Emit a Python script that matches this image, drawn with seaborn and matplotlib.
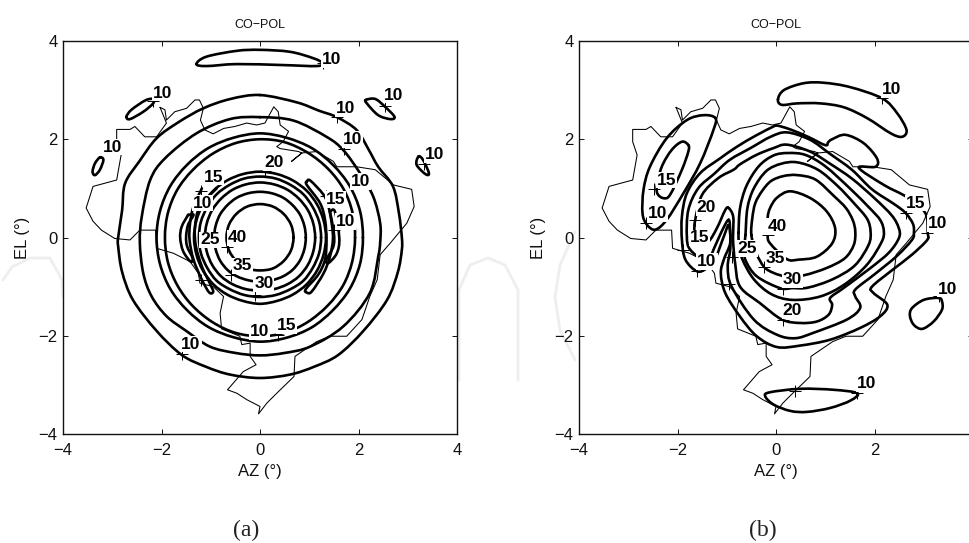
import matplotlib
matplotlib.use("Agg")
import matplotlib.pyplot as plt
from matplotlib.path import Path
from matplotlib.patches import PathPatch
import seaborn as sns

BRAZIL = [(-2.03,2.65),(-1.93,2.6),(-1.9,2.39),(-1.73,2.56),(-1.49,2.63),(-1.32,2.8),(-1.23,2.8),(-1.15,2.63),(-1.21,2.39),(-1.12,2.19),
 (-.95,2.11),(-.74,2.22),(-.51,2.26),(-.27,2.33),(-.07,2.29),(.1,2.33),(.28,2.66),(.37,2.56),(.41,2.29),(.58,2.16),(.47,1.95),(.34,1.85),
 (.41,1.81),(.78,1.75),(.85,1.72),(.64,1.55),(.85,1.72),(1.15,1.75),(1.49,1.55),(1.56,1.44),(1.96,1.44),(2.34,1.38),(2.71,1.07),(3.08,.98),
 (3.13,.63),(2.98,.29),(2.64,-.12),(2.44,-.35),(2.38,-.86),(2.23,-1.2),(2.07,-1.67),(1.76,-2.01),(1.42,-2.01),(1.15,-2.12),(.71,-2.42),
 (.69,-2.83),(.34,-3.17),(.14,-3.37),(-.03,-3.59),(0,-3.44),(-.27,-3.3),(-.47,-3.17),(-.66,-3.1),(-.34,-2.73),(-.08,-2.59),(-.2,-2.42),
 (-.2,-2.15),(-.37,-2.18),(-.41,-2.01),(-.78,-1.86),(-.81,-1.54),(-.74,-1.2),(-.95,-1.0),(-1.22,-.93),(-1.25,-.73),(-1.42,-.49),(-1.76,-.32),
 (-2.1,-.22),(-2.12,.15),(-2.44,.15),(-2.64,-.05),(-2.95,-.02),(-3.22,.15),(-3.39,.33),(-3.53,.6),(-3.39,1.04),(-2.91,1.17),(-2.82,1.68),
 (-2.91,1.95),(-2.91,2.2),(-2.64,2.2),(-2.54,2.26),(-2.34,2.05),(-2.1,2.05),(-1.9,2.33),(-2.03,2.65)]

# ---- panel (a) contours (AZ, EL) ----
A_OUTER = [(0,2.9),(.75,2.75),(1.2,2.58),(1.56,2.45),(1.96,2.19),(2.2,1.8),(2.4,1.44),(2.7,1.04),(2.82,.5),(2.88,0),(2.88,-.25),(2.8,-.7),(2.58,-1.27),
 (2.1,-1.9),(1.59,-2.39),(1.1,-2.63),(.61,-2.79),(0,-2.86),(-.61,-2.79),(-1.1,-2.63),(-1.59,-2.39),(-2.1,-1.9),(-2.58,-1.27),(-2.8,-.7),(-2.88,-.18),
 (-2.88,0),(-2.8,.55),(-2.74,1.1),(-2.45,1.55),(-2.1,2.02),(-1.65,2.35),(-1.15,2.63),(-.6,2.82)]
A_RING2 = [(0,2.45),(.68,2.38),(1.35,2.05),(1.69,1.78),(2.03,1.31),(2.3,.83),(2.44,.29),(2.44,-.1),(2.4,-.39),(2.23,-1.13),(1.69,-1.81),(1.02,-2.22),
 (.5,-2.35),(0,-2.4),(-.5,-2.35),(-1.02,-2.22),(-1.5,-1.9),(-1.9,-1.6),(-2.2,-1.2),(-2.37,-.73),(-2.44,-.1),(-2.4,.43),(-2.23,1.17),(-1.93,1.61),
 (-1.29,2.12),(-.61,2.41)]
A_RING3 = [(2.09,0),(2.03,.54),(1.82,1.05),(1.48,1.48),(1.05,1.82),(.54,2.03),(0,2.12),(-.54,2.03),(-1.05,1.82),(-1.48,1.48),(-1.82,1.05),(-2.03,.54),
 (-2.1,0),(-2.03,-.54),(-1.82,-1.05),(-1.48,-1.48),(-1.05,-1.82),(-.54,-2.03),(0,-2.12),(.54,-2.04),(1.05,-1.83),(1.48,-1.48),(1.82,-1.05),(2.03,-.54)]
A_RING4 = [(1.93,0),(1.88,.5),(1.7,.98),(1.39,1.39),(.98,1.72),(.5,1.94),(0,2.0),(-.5,1.92),(-.97,1.7),(-1.37,1.37),(-1.68,.97),(-1.87,.5),
 (-1.93,0),(-1.87,-.5),(-1.68,-.97),(-1.38,-1.38),(-.97,-1.72),(-.5,-1.94),(0,-2.01),(.5,-1.94),(.97,-1.72),(1.38,-1.38),(1.69,-.97),(1.87,-.5)]
A_R20 = [(1.34,0),(1.29,.35),(1.16,.67),(.95,.95),(.67,1.16),(.35,1.29),(0,1.34),(-.35,1.29),(-.67,1.16),(-.95,.95),(-1.16,.67),(-1.29,.35),
 (-1.34,0),(-1.29,-.35),(-1.16,-.67),(-.95,-.95),(-.67,-1.16),(-.35,-1.29),(0,-1.35),(.35,-1.29),(.67,-1.16),(.95,-.95),(1.16,-.67),(1.29,-.35)]
A_R25 = [(1.24,0),(1.2,.32),(1.07,.62),(.88,.88),(.62,1.07),(.32,1.2),(0,1.24),(-.32,1.2),(-.62,1.07),(-.88,.88),(-1.07,.62),(-1.2,.32),
 (-1.24,0),(-1.2,-.32),(-1.07,-.62),(-.88,-.88),(-.62,-1.05),(-.32,-1.17),(0,-1.21),(.32,-1.17),(.62,-1.05),(.88,-.88),(1.07,-.62),(1.2,-.32)]
A_R30 = [(1.12,0),(1.08,.29),(.97,.56),(.79,.79),(.56,.97),(.29,1.08),(0,1.12),(-.29,1.08),(-.56,.97),(-.79,.79),(-.97,.56),(-1.08,.29),
 (-1.12,0),(-1.08,-.29),(-.97,-.56),(-.79,-.79),(-.56,-.95),(-.29,-1.05),(0,-1.08),(.29,-1.05),(.56,-.95),(.79,-.79),(.97,-.56),(1.08,-.29)]
A_R35 = [(.93,0),(.9,.24),(.81,.47),(.66,.66),(.47,.81),(.24,.9),(0,.93),(-.24,.9),(-.47,.81),(-.66,.66),(-.81,.47),(-.9,.24),
 (-.93,0),(-.9,-.24),(-.81,-.47),(-.66,-.66),(-.47,-.79),(-.24,-.87),(0,-.9),(.24,-.87),(.47,-.79),(.66,-.66),(.81,-.47),(.9,-.24)]
A_R40 = [(.68,0),(.63,.26),(.48,.48),(.26,.63),(0,.68),(-.26,.63),(-.48,.48),(-.63,.26),(-.68,0),(-.63,-.26),(-.48,-.48),(-.26,-.63),(0,-.67),(.26,-.63),(.48,-.48),(.63,-.26)]
A_C15L = [(-1.18,1.0),(-1.35,.63),(-1.42,.29),(-1.43,-.05),(-1.35,-.45),(-1.18,-.86),(-1.03,-1.12),(-.95,-1.1),(-1.02,-.93),(-1.18,-.59),(-1.3,-.18),(-1.32,.22),(-1.22,.63),(-.88,1.0)]
A_C10L = [(-1.46,.46),(-1.59,.22),(-1.62,-.01),(-1.56,-.28),(-1.41,-.49),(-1.37,-.42),(-1.48,-.18),(-1.5,.02),(-1.46,.26),(-1.35,.46),(-1.46,.46)]
A_C15R = [(.95,1.14),(1.02,1.16),(1.29,.87),(1.39,.63),(1.46,.26),(1.48,-.05),(1.42,-.39),(1.29,-.73),(1.05,-1.1),(.95,-1.12),(.93,-1.05),(1.18,-.76),(1.32,-.45),(1.35,-.05),(1.32,.36),(1.22,.7),(.95,1.07),(.95,1.14)]
A_C10R = [(1.42,.53),(1.52,.53),(1.61,-.01),(1.56,-.32),(1.39,-.52),(1.35,-.45),(1.49,-.18),(1.5,.09),(1.42,.53)]
A_TOP = [(-1.29,3.53),(-1.09,3.68),(-.47,3.8),(0,3.82),(.61,3.78),(1.08,3.65),(1.27,3.55),(1.15,3.49),(.47,3.51),(-.47,3.53),(-1.09,3.49)]
A_TL = [(-2.71,2.46),(-2.61,2.6),(-2.33,2.79),(-2.17,2.82),(-2.17,2.73),(-2.37,2.56),(-2.64,2.41)]
A_TR = [(2.15,2.8),(2.34,2.82),(2.54,2.66),(2.73,2.46),(2.65,2.41),(2.4,2.49),(2.17,2.73)]
A_SL = [(-3.25,1.63),(-3.18,1.58),(-3.25,1.38),(-3.35,1.27),(-3.4,1.34),(-3.35,1.51)]
A_SR = [(3.22,1.65),(3.31,1.58),(3.43,1.31),(3.36,1.29),(3.18,1.48)]
A_CLOSED = [A_OUTER,A_RING2,A_RING3,A_RING4,A_R20,A_R25,A_R30,A_R35,A_R40,A_TOP,A_TL,A_TR,A_SL,A_SR]
A_OPEN = [A_C15L,A_C10L,A_C15R,A_C10R]
A_LABELS = [("10",1.46,3.63),("10",-1.98,2.94),("10",2.71,2.9),("10",-3.0,1.84),("10",3.55,1.69),("10",1.74,2.63),("10",1.88,1.99),
 ("20",.28,1.53),("15",-.95,1.23),("10",-1.17,.7),("10",2.04,1.14),("15",1.54,.77),("10",1.73,.33),("25",-1.02,-.05),("40",-.46,-.01),
 ("35",-.36,-.58),("30",.08,-.93),("10",-.01,-1.91),("15",.54,-1.8),("10",-1.4,-2.17)]
A_PLUS = [(1.27,3.55),(-2.17,2.78),(2.54,2.68),(1.56,2.45),(1.7,1.8),(.1,1.35),(3.33,1.5),(-1.59,-2.38),(.36,-1.99),(-.1,-1.17),(-.58,-.76),
 (-.68,-.2),(-1.19,-.86),(-1.2,.95),(1.35,.85),(1.5,.15)]

# ---- panel (b) contours (AZ, EL) ----
B_TOP = [(.04,2.81),(.16,3.0),(.56,3.14),(.97,3.15),(1.51,3.06),(2.16,2.83),(2.46,2.53),(2.65,2.19),(2.56,2.05),(2.33,2.12),(1.85,2.43),(1.38,2.65),(.9,2.73),(.43,2.73),(.12,2.7)]
B_LEFT = [(-1.23,2.43),(-1.47,2.49),(-1.81,2.39),(-2.22,2.02),(-2.56,1.44),(-2.69,.97),(-2.71,.49),(-2.62,.26),(-2.45,.16),(-2.22,.36),(-1.88,.9),(-1.54,1.51),(-1.27,2.19)]
B_LEFT15 = [(-1.78,1.88),(-1.91,1.95),(-2.12,1.78),(-2.32,1.44),(-2.42,1.04),(-2.4,.88),(-2.28,.8),(-2.15,.87),(-1.91,1.38),(-1.78,1.75)]
B_BLOB = [(3.3,-1.23),(3.0,-1.27),(2.76,-1.44),(2.72,-1.6),(2.8,-1.78),(2.97,-1.86),(3.2,-1.71),(3.37,-1.47),(3.37,-1.3)]
B_BOTTOM = [(1.65,-3.17),(1.17,-3.1),(.49,-3.08),(-.12,-3.15),(-.22,-3.23),(-.05,-3.4),(.29,-3.53),(.63,-3.55),(1.1,-3.47),(1.51,-3.32)]
B_C10 = [(-.96,.25),(-1.06,.02),(-1.23,-.42),(-1.4,-.62),(-1.6,-.69),(-1.84,-.45),(-1.91,-.05),(-1.91,.43),(-1.81,.9),(-1.54,1.31),(-1.15,1.6),(-.79,1.85),(-.4,2.08),
 (-.05,2.26),(.02,2.28),(.29,2.2),(.65,2.05),(1.0,1.88),(1.06,1.94),(1.14,2.0),(1.41,2.09),(1.78,1.92),(2.05,1.61),(2.02,1.44),(1.68,1.42),(2.19,1.07),(2.66,.82),
 (3.03,.5),(3.08,.09),(3.07,-.05),(2.76,-.35),(2.39,-.64),(1.95,-1.0),(1.98,-1.13),(2.26,-1.37),(2.12,-1.6),(1.71,-1.84),(1.1,-2.08),(.49,-2.2),(.02,-2.23),
 (-.39,-2.01),(-.73,-1.61),(-1.03,-1.13),(-1.12,-.73),(-1.06,-.45),(-.93,-.11)]
B_C15 = [(-.96,.36),(-1.1,.13),(-1.27,-.25),(-1.4,-.5),(-1.74,-.25),(-1.81,.02),(-1.78,.56),(-1.58,1.0),(-1.25,1.3),(-.94,1.58),(-.5,1.83),(-.11,2.05),(.22,2.14),(.69,1.99),
 (1.1,1.7),(1.54,1.38),(1.95,.98),(2.4,.68),(2.63,.5),(2.78,.28),(2.8,.1),(2.76,-.05),(2.45,-.38),(2.0,-.75),(1.61,-1.06),(1.61,-1.2),(1.71,-1.43),(1.44,-1.67),
 (.76,-1.94),(.39,-2.05),(.02,-1.98),(-.45,-1.67),(-.9,-1.0),(-.98,-.6),(-.93,-.25),(-.93,.09)]
B_C20 = [(-.96,.6),(-1.03,.56),(-1.2,.19),(-1.37,-.08),(-1.55,-.1),(-1.65,.1),(-1.64,.36),(-1.5,.87),(-1.17,1.21),(-.86,1.38),(-.73,1.49),(-.4,1.68),(-.05,1.82),(.22,1.89),(.69,1.75),
 (1.1,1.5),(1.54,1.2),(2.0,.8),(2.35,.45),(2.49,.2),(2.5,0),(2.3,-.3),(1.92,-.62),(1.37,-1.03),(1.1,-1.23),(1.14,-1.37),(1.07,-1.57),(.83,-1.71),(.49,-1.74),
 (.12,-1.67),(-.32,-1.34),(-.73,-1.0),(-.83,-.52),(-.87,-.1),(-.87,.09),(-.87,.43)]
B_C25 = [(-.76,.1),(-.73,.6),(-.6,1.05),(-.35,1.45),(-.05,1.67),(.25,1.72),(.6,1.68),(1.0,1.45),(1.5,1.0),(1.9,.6),(2.12,.35),(2.19,.12),(2.14,-.1),(1.85,-.55),(1.4,-.95),(.9,-1.2),(.33,-1.27),
 (-.1,-1.15),(-.45,-.85),(-.68,-.45),(-.75,-.15)]
B_C30 = [(-.62,.05),(-.58,.6),(-.45,1.0),(-.2,1.35),(.1,1.5),(.43,1.53),(.85,1.38),(1.25,1.05),(1.6,.68),(1.85,.38),(1.92,.12),(1.88,-.15),(1.6,-.57),(1.15,-.85),(.65,-1.02),(.33,-1.03),(.08,-1.03),
 (-.39,-.79),(-.62,-.46),(-.64,-.2)]
B_C35 = [(-.5,.05),(-.48,.4),(-.42,.7),(-.28,.95),(-.1,1.15),(.15,1.25),(.43,1.27),(.8,1.18),(1.17,.85),(1.42,.6),(1.56,.35),(1.61,.12),(1.58,-.15),(1.4,-.42),(1.03,-.62),(.56,-.77),(.2,-.79),
 (-.05,-.72),(-.24,-.6),(-.4,-.32)]
B_C40 = [(-.17,.05),(-.12,-.12),(.22,-.44),(.46,-.45),(.83,-.39),(1.14,-.12),(1.2,.19),(1.03,.53),(.7,.8),(.29,.94),(.02,.81),(-.12,.6),(-.17,.4)]
B_CLOSED = [B_TOP,B_LEFT,B_LEFT15,B_BLOB,B_BOTTOM,B_C10,B_C15,B_C20,B_C25,B_C30,B_C35,B_C40]
B_LABELS = [("10",2.34,3.02),("15",-2.22,1.17),("10",-2.41,.49),("20",-1.42,.61),("40",.02,.22),("15",-1.56,-.01),("25",-.59,-.22),("15",2.83,.7),("10",3.29,.29),
 ("35",-.01,-.42),("30",.34,-.86),("10",-1.4,-.49),("20",.33,-1.49),("10",3.49,-1.05),("10",1.83,-2.98)]
B_PLUS = [(2.16,2.83),(-2.47,.99),(-2.64,.29),(-1.64,.36),(-.17,.05),(2.63,.5),(3.07,.1),(-1.6,-.69),(-.9,-.4),(-.24,-.6),(.15,-1.05),(.15,-1.68),(3.31,-1.2),(1.65,-3.17),(.39,-3.13),
 (-1.88,-.25),(-.95,-.95)]

TICKS = [-4,-2,0,2,4]
TICK_LABELS = ["\u22124","\u22122","0","2","4"]
TITLE = "CO\u2212POL"
WATERMARK = [[(3,280),(12,267),(30,258),(50,258),(62,280),(63,297)],
             [(459,380),(459,290),(470,265),(488,258),(505,265),(518,290),(518,380)],
             [(575,232),(560,265),(555,297),(560,330),(575,360)]]

sns.set_style("white")
plt.rcParams["font.family"] = ["Liberation Sans", "DejaVu Sans"]
W, H = 969, 543
LW = 1.9
fig = plt.figure(figsize=(W/100, H/100), dpi=100, facecolor="white")

wm = fig.add_axes([0,0,1,1], zorder=0)
wm.set_xlim(0,W); wm.set_ylim(H,0); wm.axis("off")
for arc in WATERMARK:
    sns.lineplot(x=[p[0] for p in arc], y=[p[1] for p in arc], sort=False, estimator=None, color="#eeeeee", linewidth=2.0, ax=wm, legend=False)

def smooth(ax, pts, close):
    """Stroke the read points with matplotlib's own Bezier segments through them."""
    n = len(pts)
    get = (lambda i: pts[i % n]) if close else (lambda i: pts[max(0, min(n-1, i))])
    verts, codes = [pts[0]], [Path.MOVETO]
    for i in range(n if close else n-1):
        p0, p1, p2, p3 = get(i-1), get(i), get(i+1), get(i+2)
        verts += [(p1[0]+(p2[0]-p0[0])/6, p1[1]+(p2[1]-p0[1])/6),
                  (p2[0]-(p3[0]-p1[0])/6, p2[1]-(p3[1]-p1[1])/6), p2]
        codes += [Path.CURVE4]*3
    ax.add_patch(PathPatch(Path(verts, codes), fill=False, ec="black", lw=LW, joinstyle="round", capstyle="round", zorder=2))

def panel(left, closed, opened, labels, plus, tag, tag_x):
    ax = fig.add_axes([left/W, 1-434/H, 394/W, 393/H], zorder=1)
    ax.patch.set_alpha(0)
    sns.lineplot(x=[p[0] for p in BRAZIL], y=[p[1] for p in BRAZIL], sort=False, estimator=None, color="black", linewidth=0.75, ax=ax, legend=False, zorder=2)
    for c in closed:
        smooth(ax, c, True)
    for c in opened:
        smooth(ax, c, False)
    ax.plot([p[0] for p in plus], [p[1] for p in plus], ls="none", marker="+", color="black", ms=8, mew=0.7, zorder=3)
    for s, x, y in labels:
        ax.text(x, y, s, ha="center", va="center", fontsize=12.5, fontweight="bold", color="black", zorder=4,
                bbox=dict(fc="white", ec="none", pad=0.6))
    ax.set_xlim(-4,4); ax.set_ylim(-4,4)
    ax.set_xticks(TICKS); ax.set_xticklabels(TICK_LABELS)
    ax.set_yticks(TICKS); ax.set_yticklabels(TICK_LABELS)
    ax.tick_params(direction="in", length=3.5, width=0.7, top=True, right=True, bottom=True, left=True, labelsize=12, colors="#111111")
    ax.tick_params(axis="x", pad=6.5)
    ax.tick_params(axis="y", pad=4)
    for s in ax.spines.values():
        s.set_visible(True); s.set_linewidth(1.0); s.set_color("#111111")
    ax.set_title(TITLE, fontsize=9, pad=9, color="#111111")
    ax.set_xlabel("AZ (\u00b0)", fontsize=12, labelpad=4, color="#111111")
    ax.set_ylabel("EL (\u00b0)", fontsize=12, labelpad=6, color="#111111")
    fig.text(tag_x/W, 1-530/H, tag, ha="center", va="center", fontsize=17, family="Liberation Serif", color="#222222")
    return ax

panel(63, A_CLOSED, A_OPEN, A_LABELS, A_PLUS, "(a)", 246)
panel(579, B_CLOSED, [], B_LABELS, B_PLUS, "(b)", 763)
fig.savefig("out.png", dpi=100, facecolor="white")
